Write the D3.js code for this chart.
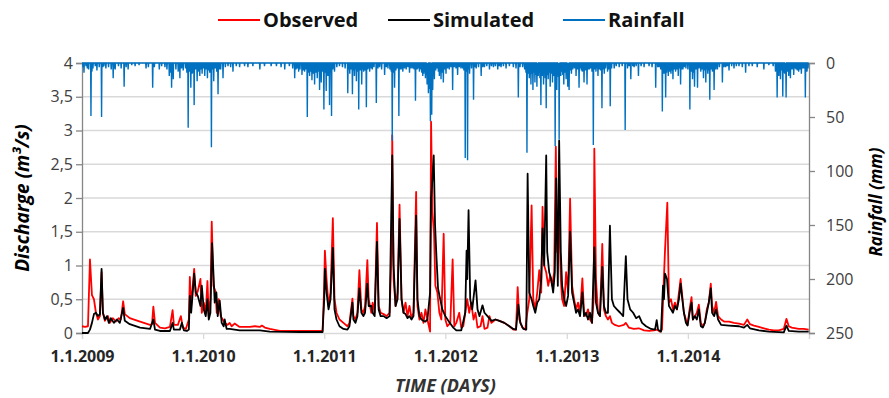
<!DOCTYPE html>
<html>
<head>
<meta charset="utf-8">
<script src="https://cdn.jsdelivr.net/npm/d3@7"></script>
<style>
  body { margin: 0; background: #fff; }
  text { font-family: "Open Sans", "DejaVu Sans", sans-serif; }
</style>
</head>
<body>
<div id="chart-area"></div>
<script>
const margin = { top: 63, right: 80, bottom: 65, left: 82 };
const width = 889 - margin.left - margin.right;
const height = 398 - margin.top - margin.bottom;

// days since 1.1.2009, discharge m3/s
const observed = [
  [0,0.1],[9,0.09],[18,0.1],[21,0.6],[24,1.09],[30,0.56],[36,0.5],[42,0.3],[48,0.2],[54,0.25],
  [59,0.9],[63,0.3],[69,0.18],[78,0.25],[84,0.15],[93,0.22],[102,0.17],[111,0.22],[117,0.2],[124,0.47],
  [129,0.28],[144,0.22],[175,0.17],[205,0.12],[211,0.13],[215,0.39],[220,0.15],[235,0.08],[250,0.07],[265,0.09],
  [273,0.34],[277,0.12],[289,0.12],[298,0.25],[304,0.08],[313,0.06],[322,0.2],[325,0.83],[329,0.4],[338,0.95],
  [343,0.55],[349,0.62],[357,0.8],[361,0.3],[367,0.45],[373,0.3],[378,0.77],[382,0.25],[387,0.5],[391,1.65],
  [396,0.7],[402,0.62],[406,0.3],[412,0.5],[418,0.25],[424,0.2],[430,0.15],[439,0.12],[445,0.15],[451,0.1],
  [460,0.14],[475,0.09],[506,0.09],[521,0.1],[536,0.09],[542,0.11],[551,0.08],[566,0.06],[596,0.03],[656,0.03],
  [725,0.03],[730,0.7],[732,1.22],[737,0.8],[743,0.4],[749,0.6],[756,1.7],[761,0.5],[767,0.3],[776,0.2],
  [788,0.15],[800,0.1],[806,0.15],[815,0.51],[818,0.25],[824,0.2],[830,0.3],[836,0.93],[842,0.35],[848,0.3],
  [853,0.4],[860,1.08],[864,0.5],[872,0.3],[876,0.45],[882,0.3],[889,1.63],[894,0.4],[900,0.3],[909,0.28],
  [918,0.25],[927,0.3],[933,1.2],[935,2.93],[939,0.8],[945,0.4],[951,0.6],[957,1.9],[963,0.5],[969,0.3],
  [975,0.45],[981,0.25],[987,0.4],[993,0.22],[999,0.3],[1007,2.09],[1011,0.4],[1017,0.2],[1023,0.3],[1029,0.15],
  [1035,0.35],[1041,0.2],[1049,0.02],[1052,3.13],[1056,1.8],[1061,1.47],[1065,0.7],[1071,0.6],[1077,0.3],[1083,0.2],
  [1090,1.47],[1095,0.2],[1101,0.1],[1110,0.15],[1117,1.09],[1122,0.1],[1128,0.15],[1137,0.3],[1143,0.08],[1149,0.1],
  [1155,0.3],[1161,0.5],[1167,0.3],[1173,0.45],[1180,0.2],[1186,0.3],[1192,0.08],[1201,0.1],[1207,0.25],[1213,0.06],
  [1222,0.08],[1228,0.25],[1234,0.15],[1246,0.2],[1258,0.18],[1273,0.15],[1288,0.1],[1300,0.05],[1308,0.05],[1313,0.68],
  [1318,0.2],[1327,0.08],[1336,0.05],[1342,0.3],[1348,0.5],[1355,1.89],[1360,0.5],[1366,0.35],[1372,0.6],[1378,0.93],
  [1384,0.6],[1388,1.87],[1393,1.0],[1399,0.9],[1405,0.7],[1411,0.85],[1417,0.7],[1423,0.9],[1428,2.76],[1432,1.2],
  [1438,1.7],[1443,0.8],[1447,0.5],[1453,0.4],[1459,0.9],[1465,0.6],[1471,1.99],[1477,0.7],[1483,0.5],[1489,0.35],
  [1495,0.45],[1501,0.3],[1508,0.81],[1513,0.3],[1519,0.25],[1525,0.35],[1531,0.2],[1537,0.15],[1542,0.5],[1544,2.73],
  [1549,0.8],[1555,0.3],[1561,0.25],[1568,1.32],[1573,0.35],[1579,0.25],[1585,0.2],[1591,0.25],[1597,0.15],[1606,0.12],
  [1618,0.1],[1633,0.12],[1639,0.15],[1648,0.08],[1663,0.06],[1678,0.07],[1694,0.04],[1709,0.03],[1724,0.04],[1733,0.05],
  [1742,0.02],[1748,0.05],[1752,0.6],[1757,1.22],[1764,1.93],[1769,0.45],[1775,0.5],[1781,0.35],[1787,0.45],[1793,0.35],
  [1799,0.6],[1804,0.8],[1808,0.6],[1814,0.3],[1820,0.2],[1825,0.12],[1831,0.35],[1837,0.53],[1841,0.2],[1847,0.25],
  [1853,0.3],[1859,0.42],[1865,0.15],[1871,0.1],[1877,0.15],[1883,0.35],[1889,0.45],[1895,0.73],[1899,0.4],[1905,0.3],
  [1911,0.46],[1917,0.25],[1926,0.2],[1935,0.17],[1950,0.17],[1965,0.15],[1980,0.14],[1995,0.12],[2005,0.2],[2013,0.13],
  [2025,0.11],[2040,0.09],[2055,0.07],[2070,0.05],[2085,0.04],[2100,0.04],[2115,0.06],[2123,0.21],[2130,0.1],[2139,0.08],
  [2160,0.06],[2175,0.06],[2190,0.05]
];

const simulated = [
  [0,0],[18,0],[24,0.05],[30,0.15],[36,0.28],[42,0.3],[48,0.25],[54,0.28],[59,0.95],[63,0.3],
  [69,0.2],[75,0.25],[81,0.15],[87,0.22],[96,0.15],[105,0.2],[114,0.15],[124,0.37],[129,0.18],[144,0.13],
  [175,0.08],[205,0.06],[215,0.2],[220,0.05],[235,0.03],[265,0.03],[273,0.15],[277,0.05],[295,0.05],[301,0.15],
  [307,0.04],[316,0.03],[322,0.05],[325,0.55],[329,0.3],[338,0.88],[343,0.6],[349,0.55],[357,0.4],[361,0.7],
  [367,0.35],[373,0.25],[378,0.5],[382,0.2],[387,0.3],[392,1.33],[396,0.9],[400,0.45],[405,0.6],[409,0.25],
  [415,0.48],[421,0.15],[427,0.1],[430,0.2],[436,0.06],[445,0.06],[460,0.05],[475,0.04],[536,0.04],[566,0.02],
  [656,0.015],[725,0.015],[730,0.5],[732,0.95],[737,0.6],[743,0.35],[749,0.5],[756,1.26],[761,0.35],[767,0.2],
  [776,0.1],[788,0.06],[800,0.05],[806,0.1],[815,0.45],[818,0.2],[824,0.15],[830,0.25],[836,0.66],[842,0.3],
  [848,0.25],[853,0.3],[860,0.73],[864,0.4],[872,0.4],[876,0.3],[882,0.25],[889,1.35],[894,0.35],[900,0.25],
  [909,0.25],[918,0.22],[927,0.25],[935,2.63],[939,1.0],[945,0.4],[951,0.5],[957,1.69],[963,0.5],[969,0.3],
  [975,0.28],[981,0.22],[987,0.25],[993,0.2],[999,0.25],[1007,1.74],[1011,0.5],[1017,0.25],[1023,0.2],[1029,0.18],
  [1035,0.17],[1041,0.2],[1049,0.6],[1052,2.0],[1055,2.2],[1060,2.63],[1064,1.6],[1068,1.15],[1073,0.66],[1077,0.56],
  [1086,0.35],[1095,0.25],[1107,0.16],[1119,0.08],[1128,0.04],[1143,0.04],[1155,0.3],[1159,1.22],[1161,0.8],[1165,1.82],
  [1170,0.5],[1176,0.35],[1186,0.78],[1192,0.35],[1198,0.25],[1207,0.41],[1213,0.3],[1222,0.25],[1234,0.18],[1246,0.2],
  [1258,0.18],[1273,0.15],[1288,0.1],[1300,0.06],[1308,0.05],[1315,0.42],[1321,0.15],[1330,0.06],[1339,0.05],[1343,2.36],
  [1348,0.6],[1355,0.5],[1360,0.4],[1366,0.3],[1372,0.45],[1378,0.5],[1384,0.8],[1388,1.55],[1393,1.0],[1399,2.63],
  [1402,1.2],[1408,0.9],[1414,0.8],[1420,0.6],[1425,0.9],[1429,2.29],[1434,0.7],[1438,2.85],[1443,1.2],[1447,0.7],
  [1453,0.5],[1459,0.4],[1465,0.55],[1471,1.5],[1477,0.6],[1483,0.45],[1489,0.3],[1495,0.35],[1501,0.25],[1508,0.6],
  [1513,0.25],[1519,0.3],[1525,0.2],[1531,0.3],[1537,0.15],[1544,1.27],[1549,0.45],[1555,0.3],[1561,0.25],[1568,0.98],
  [1573,0.4],[1579,0.3],[1585,0.3],[1591,1.59],[1597,0.5],[1603,0.4],[1612,0.35],[1622,0.3],[1631,0.25],[1639,1.14],
  [1644,0.5],[1652,0.35],[1661,0.3],[1670,0.22],[1679,0.25],[1688,0.15],[1700,0.1],[1715,0.06],[1727,0.05],[1732,0.19],
  [1736,0.05],[1745,0.02],[1751,0.7],[1754,0.5],[1757,0.88],[1763,0.8],[1769,0.4],[1775,0.35],[1781,0.3],[1787,0.4],
  [1793,0.35],[1799,0.5],[1804,0.73],[1808,0.55],[1814,0.3],[1820,0.15],[1825,0.11],[1831,0.3],[1837,0.45],[1841,0.2],
  [1847,0.25],[1853,0.2],[1859,0.35],[1865,0.1],[1871,0.08],[1877,0.15],[1883,0.3],[1889,0.45],[1895,0.66],[1899,0.3],
  [1905,0.25],[1911,0.35],[1917,0.2],[1926,0.12],[1950,0.11],[1980,0.1],[1995,0.08],[2005,0.12],[2013,0.07],[2040,0.04],
  [2070,0.02],[2115,0.01],[2123,0.11],[2130,0.03],[2160,0.02],[2190,0.02]
];

// rainy days (days since 1.1.2009, mm); all other days are 0
const rainfall = [
  [3,4],[6,9],[12,3],[16,5],[20,6],[27,49],[30,8],[33,5],[40,3],[45,7],[52,4],[59,50],[63,4],[66,3],[72,5],[80,4],
  [88,6],[94,14],[97,5],[100,6],[110,3],[118,5],[127,22],[133,4],[139,6],[150,2],[160,3],[172,2],[193,5],[200,4],
  [213,23],[218,4],[233,6],[240,3],[250,4],[256,6],[263,12],[267,9],[270,23],[275,15],[283,6],[290,8],[295,14],
  [300,5],[305,7],[312,5],[316,9],[320,60],[324,8],[328,23],[332,10],[335,9],[338,39],[342,6],[347,17],[352,8],
  [355,12],[359,6],[362,10],[366,5],[370,12],[374,6],[378,14],[382,7],[385,9],[390,78],[393,6],[397,17],[400,5],
  [403,5],[406,8],[410,29],[414,6],[418,6],[425,14],[432,4],[440,3],[448,4],[455,8],[465,3],[475,4],[490,3],
  [500,4],[515,3],[536,6],[550,3],[570,3],[586,3],[600,4],[611,6],[625,3],[635,5],[641,14],[645,6],[649,5],
  [653,8],[657,6],[663,11],[667,7],[671,8],[675,6],[679,50],[683,9],[686,12],[690,8],[693,16],[697,10],[701,20],
  [705,9],[709,14],[712,8],[716,25],[719,10],[721,18],[725,8],[729,43],[733,9],[736,26],[739,7],[741,12],[744,8],
  [746,39],[749,9],[752,49],[756,6],[761,8],[768,4],[776,3],[785,4],[793,5],[801,28],[804,6],[807,10],[811,6],
  [815,29],[818,7],[821,12],[824,6],[827,17],[831,8],[834,43],[838,7],[843,20],[846,6],[849,8],[853,7],[857,41],
  [861,6],[864,5],[867,8],[872,5],[875,6],[880,4],[887,37],[892,5],[897,4],[903,6],[912,11],[917,4],[922,5],
  [928,6],[932,8],[935,72],[938,9],[942,23],[946,7],[950,5],[955,49],[958,6],[962,6],[967,8],[972,5],[977,6],
  [982,4],[987,9],[992,5],[997,5],[1001,6],[1005,35],[1010,6],[1013,5],[1017,8],[1020,6],[1024,9],[1027,12],
  [1030,10],[1033,8],[1035,14],[1038,11],[1040,20],[1042,12],[1044,28],[1047,24],[1050,54],[1052,18],[1054,48],
  [1057,25],[1060,10],[1062,15],[1066,7],[1070,5],[1074,8],[1077,12],[1082,15],[1085,9],[1089,18],[1093,6],
  [1097,10],[1102,5],[1107,6],[1112,4],[1117,25],[1122,4],[1127,5],[1132,11],[1137,4],[1142,5],[1147,5],[1151,7],
  [1155,88],[1158,8],[1162,90],[1165,6],[1168,10],[1174,5],[1180,34],[1184,4],[1188,5],[1195,4],[1203,12],[1208,4],
  [1213,4],[1220,3],[1228,6],[1234,3],[1240,4],[1246,3],[1253,6],[1258,3],[1263,4],[1270,3],[1278,5],[1288,3],
  [1300,4],[1308,5],[1315,32],[1320,4],[1328,4],[1334,6],[1338,9],[1341,83],[1344,10],[1348,14],[1350,8],[1353,20],
  [1356,10],[1359,25],[1362,9],[1365,18],[1368,11],[1371,22],[1373,8],[1375,12],[1378,9],[1380,14],[1383,39],
  [1386,10],[1388,12],[1391,20],[1394,9],[1396,14],[1399,42],[1402,11],[1405,15],[1408,9],[1411,22],[1414,10],
  [1418,18],[1421,12],[1423,9],[1426,77],[1428,15],[1431,25],[1434,10],[1436,13],[1438,71],[1440,9],[1443,12],
  [1446,8],[1449,11],[1452,20],[1455,9],[1459,15],[1462,10],[1464,22],[1466,8],[1468,25],[1471,7],[1475,10],
  [1479,6],[1484,5],[1489,12],[1493,6],[1498,23],[1502,5],[1505,7],[1508,8],[1511,6],[1513,18],[1517,7],[1522,20],
  [1525,6],[1529,6],[1533,5],[1537,8],[1541,76],[1545,6],[1549,8],[1552,5],[1555,12],[1559,6],[1563,7],[1567,42],
  [1570,6],[1574,10],[1578,5],[1584,8],[1588,6],[1592,40],[1596,5],[1604,5],[1610,3],[1619,4],[1628,3],[1637,62],
  [1644,5],[1649,3],[1654,15],[1660,3],[1664,4],[1670,3],[1677,12],[1685,3],[1694,4],[1709,3],[1718,4],[1729,23],
  [1735,4],[1739,4],[1744,6],[1749,45],[1752,8],[1754,10],[1757,7],[1759,32],[1762,9],[1765,6],[1767,12],[1771,8],
  [1775,10],[1778,7],[1781,15],[1785,6],[1789,8],[1793,6],[1797,12],[1801,5],[1804,20],[1808,6],[1811,6],[1815,4],
  [1820,5],[1826,6],[1832,43],[1836,8],[1840,15],[1843,9],[1846,22],[1850,6],[1855,23],[1860,5],[1865,8],[1869,6],
  [1873,14],[1877,7],[1880,18],[1883,6],[1886,10],[1889,7],[1892,34],[1896,6],[1900,8],[1905,25],[1910,6],[1915,6],
  [1921,4],[1930,18],[1935,4],[1940,4],[1945,3],[1950,7],[1958,3],[1965,5],[1972,3],[1980,3],[1990,4],[2000,9],
  [2010,3],[2020,3],[2035,4],[2055,6],[2070,2],[2083,3],[2090,8],[2093,6],[2095,32],[2098,8],[2100,12],[2103,6],
  [2105,15],[2108,7],[2112,31],[2115,9],[2118,10],[2120,6],[2122,32],[2126,8],[2130,12],[2135,14],[2140,6],
  [2145,11],[2149,5],[2152,6],[2156,7],[2160,8],[2164,6],[2168,10],[2171,5],[2175,5],[2180,32],[2183,6],[2185,8],
  [2188,5]
];

const dischargeTicks = [0, 0.5, 1, 1.5, 2, 2.5, 3, 3.5, 4];
const rainTicks = [0, 50, 100, 150, 200, 250];
const yearTicks = [2009, 2010, 2011, 2012, 2013, 2014, 2015];
const lastDay = 2190;

const startDate = new Date(2009, 0, 1);
const toDate = (d) => d3.timeDay.offset(startDate, d);

const svg = d3
    .select("#chart-area")
    .append("svg")
    .attr("width", width + margin.left + margin.right)
    .attr("height", height + margin.top + margin.bottom);

const g = svg
    .append("g")
    .attr("transform", `translate(${margin.left}, ${margin.top})`);

//Scales
const xScale = d3.scaleTime().domain([startDate, new Date(2015, 0, 1)]).range([0, width]);
const yScale = d3.scaleLinear().domain([0, 4]).range([height, 0]);
const rainScale = d3.scaleLinear().domain([0, 250]).range([0, height]);

//Gridlines
g.append("g")
    .selectAll("line")
    .data(dischargeTicks.filter((d) => d > 0))
    .join("line")
    .attr("x1", 0)
    .attr("x2", width)
    .attr("y1", (d) => yScale(d))
    .attr("y2", (d) => yScale(d))
    .attr("stroke", "#d9d9d9")
    .attr("stroke-width", 1.3);

//Axes
const fmt = d3.timeFormat("%-d.%-m.%Y");
const xAxisCall = d3
    .axisBottom(xScale)
    .tickValues(yearTicks.map((y) => new Date(y, 0, 1)))
    .tickSize(6)
    .tickPadding(12)
    .tickFormat((d) => (d.getFullYear() < 2015 ? fmt(d) : ""));
const yAxisCall = d3
    .axisLeft(yScale)
    .tickValues(dischargeTicks)
    .tickSize(6)
    .tickPadding(3)
    .tickFormat((d) => String(d).replace(".", ","));
const rainAxisCall = d3
    .axisRight(rainScale)
    .tickValues(rainTicks)
    .tickSize(6)
    .tickPadding(11);

const xAxis = g
    .append("g")
    .attr("class", "x-axis")
    .attr("transform", `translate(0, ${height})`)
    .call(xAxisCall);
xAxis.select(".domain").attr("stroke", "#d9d9d9").attr("stroke-width", 1.3);
xAxis.selectAll(".tick line").attr("stroke", "#d9d9d9").attr("stroke-width", 1.3);
xAxis
    .selectAll(".tick text")
    .attr("font-size", "16px")
    .attr("font-weight", "bold")
    .attr("fill", "#262626");

const yAxis = g.append("g").attr("class", "y-axis").call(yAxisCall);
const rainAxis = g
    .append("g")
    .attr("class", "rain-axis")
    .attr("transform", `translate(${width}, 0)`)
    .call(rainAxisCall);
[yAxis, rainAxis].forEach((ax) => {
    ax.select(".domain").attr("stroke", "#868686").attr("stroke-width", 1.3);
    ax.selectAll(".tick line").attr("stroke", "#868686").attr("stroke-width", 1.3);
    ax.selectAll(".tick text").attr("font-size", "16px").attr("fill", "#404040");
});

//Lines
const qLine = d3
    .line()
    .x((d) => xScale(toDate(d[0])))
    .y((d) => yScale(d[1]));

g.append("path")
    .datum(observed)
    .attr("fill", "none")
    .attr("stroke", "#ff0000")
    .attr("stroke-width", 1.8)
    .attr("stroke-linejoin", "round")
    .attr("d", qLine);

g.append("path")
    .datum(simulated)
    .attr("fill", "none")
    .attr("stroke", "#000000")
    .attr("stroke-width", 1.8)
    .attr("stroke-linejoin", "round")
    .attr("d", qLine);

const rainByDay = new Map(rainfall);
const dailyRain = d3.range(0, lastDay + 1).map((d) => [d, rainByDay.get(d) || 0]);

g.append("path")
    .datum(dailyRain)
    .attr("fill", "none")
    .attr("stroke", "#0070c0")
    .attr("stroke-width", 1.4)
    .attr("stroke-linejoin", "miter")
    .attr(
        "d",
        d3
            .line()
            .x((d) => xScale(toDate(d[0])))
            .y((d) => rainScale(d[1]))
    );

//Labels
g.append("text")
    .attr("font-size", "18px")
    .attr("font-weight", "bold")
    .attr("font-style", "italic")
    .attr("fill", "#333")
    .attr("text-anchor", "middle")
    .attr("x", width / 2)
    .attr("y", height + 59)
    .text("TIME (DAYS)");

g.append("text")
    .attr("font-size", "19px")
    .attr("font-weight", "bold")
    .attr("font-style", "italic")
    .attr("fill", "#000")
    .attr("text-anchor", "middle")
    .attr("dominant-baseline", "central")
    .attr("transform", `translate(${22 - margin.left}, ${height / 2}) rotate(-90)`)
    .text("Discharge (m³/s)");

g.append("text")
    .attr("font-size", "17px")
    .attr("font-weight", "bold")
    .attr("font-style", "italic")
    .attr("fill", "#000")
    .attr("text-anchor", "middle")
    .attr("dominant-baseline", "central")
    .attr("transform", `translate(${width + 66}, ${height / 2 + 4}) rotate(-90)`)
    .text("Rainfall (mm)");

//Legend
const legendItems = [
    { name: "Observed", color: "#ff0000", x: 218 },
    { name: "Simulated", color: "#000000", x: 388 },
    { name: "Rainfall", color: "#0070c0", x: 563 },
];
const legend = svg.append("g").attr("class", "legend");
legendItems.forEach((item) => {
    const row = legend.append("g").attr("transform", `translate(${item.x}, 20)`);
    row.append("line")
        .attr("x1", 0)
        .attr("x2", 42)
        .attr("stroke", item.color)
        .attr("stroke-width", 2);
    row.append("text")
        .attr("x", 45)
        .attr("y", 7)
        .attr("font-size", "20px")
        .attr("font-weight", "bold")
        .attr("fill", "#111")
        .text(item.name);
});
</script>
</body>
</html>
